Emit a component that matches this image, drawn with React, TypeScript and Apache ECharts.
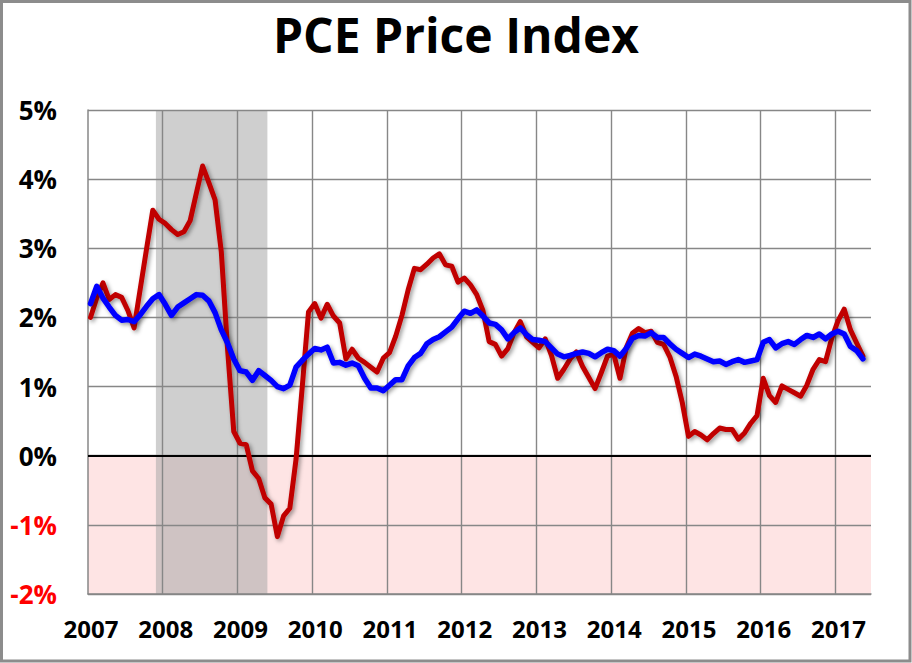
import { useEffect, useRef } from 'react'
import * as echarts from 'echarts'

// monthly YoY %, Jan 2007 .. May 2017
const HEADLINE = [
  2.0, 2.28, 2.5, 2.26, 2.33, 2.29, 2.1, 1.85, 2.42, 2.99, 3.55, 3.42,
  3.36, 3.27, 3.2, 3.24, 3.4, 3.8, 4.19, 3.95, 3.7, 2.95, 1.55, 0.35,
  0.18, 0.16, -0.22, -0.33, -0.61, -0.7, -1.17, -0.87, -0.76, -0.05, 1.0, 2.08,
  2.2, 1.99, 2.19, 2.02, 1.92, 1.4, 1.54, 1.41, 1.35, 1.28, 1.21, 1.41,
  1.49, 1.73, 2.03, 2.4, 2.71, 2.69, 2.77, 2.86, 2.92, 2.76, 2.74, 2.51,
  2.57, 2.47, 2.33, 2.1, 1.65, 1.61, 1.44, 1.55, 1.78, 1.94, 1.72, 1.64,
  1.56, 1.69, 1.45, 1.12, 1.25, 1.4, 1.5, 1.29, 1.13, 0.97, 1.2, 1.44,
  1.47, 1.12, 1.56, 1.77, 1.84, 1.78, 1.8, 1.64, 1.61, 1.43, 1.15, 0.77,
  0.28, 0.35, 0.3, 0.23, 0.32, 0.4, 0.38, 0.38, 0.24, 0.33, 0.47, 0.58,
  1.12, 0.87, 0.77, 1.01, 0.96, 0.91, 0.86, 1.02, 1.25, 1.39, 1.36, 1.7,
  1.95, 2.12, 1.82, 1.63, 1.44,
]
const CORE = [
  2.2, 2.45, 2.28, 2.15, 2.03, 1.96, 1.97, 1.94, 2.04, 2.16, 2.27, 2.33,
  2.19, 2.03, 2.15, 2.21, 2.27, 2.33, 2.32, 2.24, 2.07, 1.82, 1.63, 1.4,
  1.23, 1.21, 1.09, 1.23, 1.16, 1.09, 1.0, 0.97, 1.02, 1.28, 1.38, 1.47,
  1.55, 1.53, 1.57, 1.34, 1.35, 1.31, 1.34, 1.3, 1.12, 0.98, 0.98, 0.94,
  1.02, 1.1, 1.1, 1.3, 1.42, 1.48, 1.62, 1.68, 1.72, 1.79, 1.86, 1.98,
  2.09, 2.06, 2.11, 2.02, 1.92, 1.9, 1.82, 1.69, 1.78, 1.85, 1.75, 1.68,
  1.67, 1.65, 1.56, 1.47, 1.43, 1.45, 1.48, 1.5, 1.48, 1.43, 1.49, 1.54,
  1.52, 1.44, 1.55, 1.7, 1.74, 1.73, 1.78, 1.71, 1.71, 1.62, 1.54, 1.48,
  1.42, 1.47, 1.44, 1.4, 1.36, 1.37, 1.32, 1.36, 1.39, 1.35, 1.37, 1.39,
  1.64, 1.68, 1.56, 1.62, 1.65, 1.61, 1.68, 1.74, 1.71, 1.76, 1.69, 1.76,
  1.8, 1.76, 1.58, 1.52, 1.4,
]
const FIRST_YEAR = 2007
const Y_TICKS = [-2, -1, 0, 1, 2, 3, 4, 5]
// recession band, in months from Jan 2007
const RECESSION = [10.9, 28.8]
const X_MAX = 125.7
const POINT_SHIFT = 0.4 // points sit a little after the start of their month

const FONT = '"Open Sans", "DejaVu Sans", sans-serif'
const GRID_CLR = '#878787'

const toPoints = (vals: number[]) => vals.map((v, i) => [i + POINT_SHIFT, v])

export default function App() {
  const ref = useRef<HTMLDivElement>(null)

  useEffect(() => {
    if (!ref.current) return
    const chart = echarts.init(ref.current, undefined, { renderer: 'svg' })

    const lineShadow = {
      shadowColor: 'rgba(0,0,0,0.4)',
      shadowBlur: 4,
      shadowOffsetX: 2,
      shadowOffsetY: 2,
    }

    chart.setOption({
      animation: false,
      backgroundColor: '#ffffff',
      title: {
        text: 'PCE Price Index',
        left: 'center',
        top: 5,
        textStyle: { fontFamily: FONT, fontSize: 48, fontWeight: 'bold', color: '#000' },
      },
      graphic: [{
        type: 'rect',
        shape: { x: 1.5, y: 1.5, width: 908.5, height: 659.5 },
        style: { fill: 'none', stroke: '#8c8c8c', lineWidth: 3 },
        silent: true,
      }],
      grid: { left: 88, right: 41, top: 110, bottom: 69 },
      xAxis: {
        type: 'value',
        min: 0,
        max: X_MAX,
        interval: 12,
        axisLine: { show: true, onZero: false, lineStyle: { color: GRID_CLR, width: 1.5 } },
        axisTick: { show: false },
        splitLine: { show: true, showMinLine: false, showMaxLine: false, lineStyle: { color: GRID_CLR, width: 1.4 } },
        axisLabel: {
          margin: 22,
          padding: [0, 0, 0, 6],
          fontFamily: FONT,
          fontSize: 24,
          fontWeight: 'bold',
          color: '#000',
          showMaxLabel: false,
          formatter: (v: number) => (v % 12 === 0 ? String(FIRST_YEAR + v / 12) : ''),
        },
      },
      yAxis: {
        type: 'value',
        min: Y_TICKS[0],
        max: Y_TICKS[Y_TICKS.length - 1],
        interval: 1,
        axisLine: { show: true, lineStyle: { color: GRID_CLR, width: 1.5 } },
        axisTick: { show: false },
        splitLine: { show: true, lineStyle: { color: GRID_CLR, width: 1.4 } },
        axisLabel: {
          margin: 31,
          fontFamily: FONT,
          fontSize: 26,
          fontWeight: 'bold',
          color: (v: number) => (v < 0 ? '#ff0000' : '#000000'),
          formatter: (v: number) => `${v}%`,
        },
      },
      series: [
        // background bands, beneath the grid lines
        {
          type: 'line',
          z: -1,
          silent: true,
          data: toPoints(HEADLINE),
          showSymbol: false,
          lineStyle: { opacity: 0 },
          markArea: {
            z: -1,
            silent: true,
            data: [
              [{ xAxis: 0, yAxis: Y_TICKS[0], itemStyle: { color: '#fee4e4' } }, { xAxis: X_MAX, yAxis: 0 }],
              [{ xAxis: RECESSION[0], yAxis: Y_TICKS[0], itemStyle: { color: 'rgba(168,168,168,0.55)' } },
               { xAxis: RECESSION[1], yAxis: Y_TICKS[Y_TICKS.length - 1] }],
            ],
          },
        },
        // zero line
        {
          type: 'line',
          z: 1,
          silent: true,
          data: [],
          markLine: {
            z: 1,
            silent: true,
            symbol: 'none',
            label: { show: false },
            lineStyle: { color: '#000', width: 2, type: 'solid' },
            data: [{ yAxis: 0 }],
          },
        },
        {
          name: 'PCE',
          type: 'line',
          z: 2,
          data: toPoints(HEADLINE),
          showSymbol: false,
          lineStyle: { color: '#c00000', width: 5, join: 'round', cap: 'round', ...lineShadow },
        },
        {
          name: 'Core PCE',
          type: 'line',
          z: 3,
          data: toPoints(CORE),
          showSymbol: false,
          lineStyle: { color: '#0000ff', width: 5.5, join: 'round', cap: 'round', ...lineShadow },
        },
      ],
    })

    return () => chart.dispose()
  }, [])

  return (
    <div
      ref={ref}
      style={{ position: 'absolute', left: 0, top: 0, width: 912, height: 663 }}
    />
  )
}
